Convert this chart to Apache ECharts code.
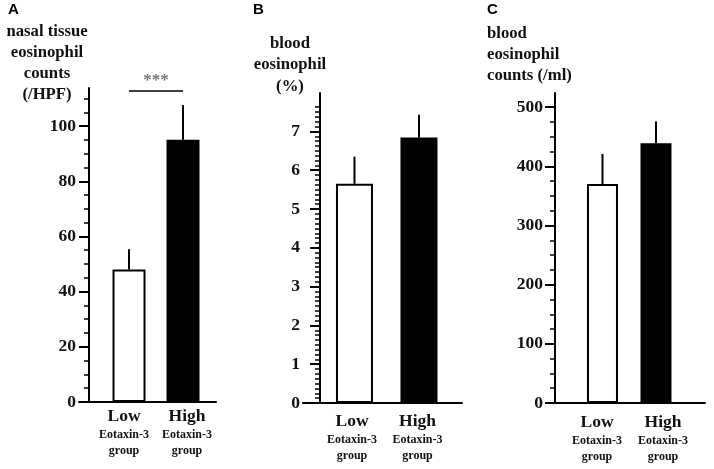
<!DOCTYPE html>
<html><head><meta charset="utf-8">
<script src="https://cdn.jsdelivr.net/npm/echarts@6/dist/echarts.min.js"></script>
<style>html,body{margin:0;padding:0;background:#fff}#c{width:714px;height:469px}</style>
</head><body><div id="c"></div>
<script>
// ---- data ----
const categories = ['Low', 'High'];
const subLabel = 'Eotaxin-3';
const groupWord = 'group';
const nasalMean = [48, 95];
const nasalErr = [7.4, 12.6];
const bloodPctMean = [5.65, 6.84];
const bloodPctErr = [0.70, 0.59];
const bloodCountMean = [370, 439];
const bloodCountErr = [51, 37];
const nasalTicks = [0, 20, 40, 60, 80, 100];
const bloodPctTicks = [0, 1, 2, 3, 4, 5, 6, 7];
const bloodCountTicks = [0, 100, 200, 300, 400, 500];
const panelLetters = ['A', 'B', 'C'];
const axisTitles = ['nasal tissue\neosinophil\ncounts\n(/HPF)', 'blood\neosinophil\n(%)', 'blood\neosinophil\ncounts (/ml)'];
const sigLabel = '***';
const sigLevel = 112.7;

function steps(start, end, step) {
  const out = [];
  for (let i = 0; start + i * step <= end + 1e-9; i++) out.push(+(start + i * step).toFixed(4));
  return out;
}

const SERIF = 'Liberation Serif';
// layout: grid rect, bar axis range, label centres (px) for the category text
const panels = [
  { mean: nasalMean, err: nasalErr, ticks: nasalTicks, minor: steps(0, 110, 5),
    grid: { left: 79, top: 88, width: 137, height: 314 }, xMin: 0.074, xMax: 2.611, yMax: 113.8,
    yOffset: -10, barWidth: 33, labelMargin: 13, xLabelMargin: 4, labelPx: [124, 187] },
  { mean: bloodPctMean, err: bloodPctErr, ticks: bloodPctTicks, minor: steps(0, 7.625, 0.125),
    grid: { left: 303, top: 93, width: 159, height: 310 }, xMin: 0.202, xMax: 2.667, yMax: 7.99,
    yOffset: -17, barWidth: 37, labelMargin: 20, xLabelMargin: 8, labelPx: [352, 417.5] },
  { mean: bloodCountMean, err: bloodCountErr, ticks: bloodCountTicks, minor: steps(0, 500, 25),
    grid: { left: 547, top: 93, width: 158, height: 310 }, xMin: -0.037, xMax: 2.916, yMax: 524,
    yOffset: -8, barWidth: 31, labelMargin: 12, xLabelMargin: 9, labelPx: [597, 663] }
];

const rich = {
  a: { fontFamily: SERIF, fontWeight: 'bold', fontSize: 17.5, lineHeight: 20, color: '#111' },
  b: { fontFamily: SERIF, fontWeight: 'bold', fontSize: 12, lineHeight: 17, color: '#111' },
  c: { fontFamily: SERIF, fontWeight: 'bold', fontSize: 12, lineHeight: 15, color: '#111' }
};

const grids = [], xAxes = [], yAxes = [], series = [];
panels.forEach((p, i) => {
  grids.push(Object.assign({ containLabel: false }, p.grid));
  // axis carrying the bars
  xAxes.push({
    type: 'value', gridIndex: i, position: 'bottom', min: p.xMin, max: p.xMax,
    axisLine: { show: true, onZero: false, lineStyle: { color: '#000', width: 2 } },
    axisTick: { show: false }, splitLine: { show: false }, axisLabel: { show: false }
  });
  // axis carrying the category text
  const s = p.labelPx[1] - p.labelPx[0];
  const lMin = 1 - (p.labelPx[0] - p.grid.left) / s;
  xAxes.push({
    type: 'value', gridIndex: i, position: 'bottom', min: lMin, max: lMin + p.grid.width / s,
    axisLine: { show: false }, axisTick: { show: false }, splitLine: { show: false },
    axisLabel: {
      customValues: [1, 2], margin: p.xLabelMargin, showMinLabel: true, showMaxLabel: true,
      formatter: v => '{a|' + categories[Math.round(v) - 1] + '}\n{b|' + subLabel + '}\n{c|' + groupWord + '}',
      rich: rich
    }
  });
  yAxes.push({
    type: 'value', gridIndex: i, position: 'left', min: 0, max: p.yMax, offset: p.yOffset,
    axisLine: { show: true, onZero: false, lineStyle: { color: '#000', width: 2 } },
    axisTick: { show: true, customValues: p.ticks, length: 10, lineStyle: { color: '#000', width: 2 } },
    axisLabel: { customValues: p.ticks, margin: p.labelMargin, fontFamily: SERIF, fontWeight: 'bold', fontSize: 17.5, color: '#111' },
    splitLine: { show: false }
  });
  yAxes.push({
    type: 'value', gridIndex: i, position: 'left', min: 0, max: p.yMax, offset: p.yOffset,
    axisLine: { show: false },
    axisTick: { show: true, customValues: p.minor, length: 5, lineStyle: { color: '#000', width: 1.5 } },
    axisLabel: { show: false }, splitLine: { show: false }
  });
  series.push({
    type: 'bar', xAxisIndex: i * 2, yAxisIndex: i * 2, barWidth: p.barWidth, silent: true,
    data: p.mean.map((m, k) => ({
      value: [k + 1, m],
      itemStyle: k === 0 ? { color: '#fff', borderColor: '#000', borderWidth: 2 } : { color: '#000' }
    }))
  });
  series.push({
    type: 'custom', xAxisIndex: i * 2, yAxisIndex: i * 2, silent: true, z: 5,
    data: p.mean.map((m, k) => [k + 1, m, p.err[k]]),
    encode: { x: 0, y: 1 },
    renderItem: (params, api) => {
      const x = api.value(0), m = api.value(1), e = api.value(2);
      const a = api.coord([x, m]), b = api.coord([x, m + e]);
      return { type: 'line', shape: { x1: a[0], y1: a[1], x2: b[0], y2: b[1] }, style: { stroke: '#000', lineWidth: 2 } };
    }
  });
});

// significance bracket on panel A
series.push({
  type: 'custom', xAxisIndex: 0, yAxisIndex: 0, silent: true, z: 5,
  data: [[1, 2, sigLevel]],
  encode: { x: [0, 1], y: 2 },
  renderItem: (params, api) => {
    const a = api.coord([api.value(0), api.value(2)]), b = api.coord([api.value(1), api.value(2)]);
    return { type: 'group', children: [
      { type: 'line', shape: { x1: a[0], y1: a[1], x2: b[0], y2: b[1] }, style: { stroke: '#000', lineWidth: 1.5 } },
      { type: 'text', x: (a[0] + b[0]) / 2, y: a[1] - 10, style: { text: sigLabel, fill: '#777', font: 'bold 17px "Liberation Serif"', align: 'center', verticalAlign: 'middle' } }
    ] };
  }
});

const titles = [
  { text: panelLetters[0], left: 8, top: 2 },
  { text: panelLetters[1], left: 253, top: 2 },
  { text: panelLetters[2], left: 487, top: 2 }
].map(t => Object.assign(t, { padding: 0, textStyle: { fontFamily: 'Liberation Sans', fontWeight: 'bold', fontSize: 15, color: '#000' } }));
const tStyle = lh => ({ fontFamily: SERIF, fontWeight: 'bold', fontSize: 16.7, lineHeight: lh, color: '#111' });
titles.push({ text: axisTitles[0], left: 47, top: 21.5, textAlign: 'center', padding: 0, textStyle: tStyle(21) });
titles.push({ text: axisTitles[1], left: 290, top: 32.5, textAlign: 'center', padding: 0, textStyle: tStyle(21.5) });
titles.push({ text: axisTitles[2], left: 487, top: 23, textAlign: 'left', padding: 0, textStyle: tStyle(21) });

const chart = echarts.init(document.getElementById('c'));
chart.setOption({
  animation: false, backgroundColor: '#fff',
  title: titles, grid: grids, xAxis: xAxes, yAxis: yAxes, series: series
});
</script></body></html>
